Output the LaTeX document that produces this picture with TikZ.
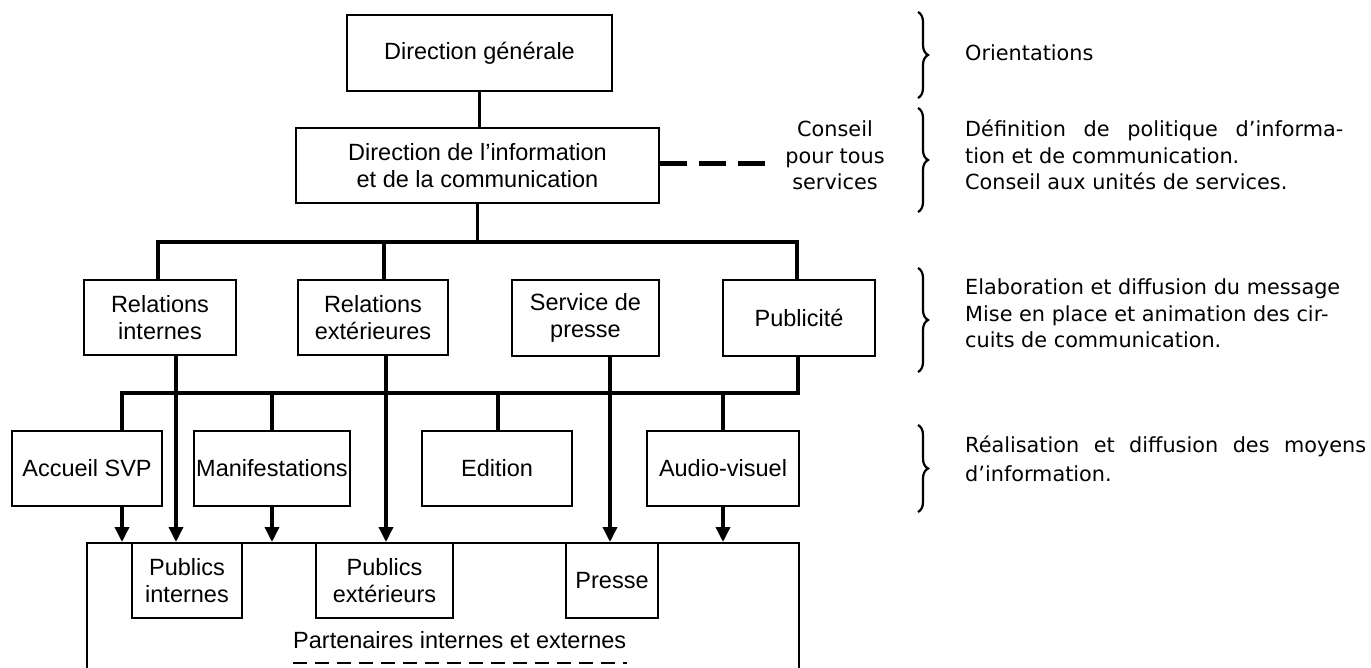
\documentclass[tikz,border=0pt]{standalone}
\usepackage{fontspec}
\setmainfont{Liberation Sans}
\newfontfamily\rcolfam{DejaVu Sans}
\usetikzlibrary{arrows.meta,decorations.pathreplacing}
\newcommand\bxfnt{\fontsize{23.5}{27}\selectfont}
\newcommand\rcolfnt{\rcolfam\fontsize{20.8}{26.5}\selectfont}
\begin{document}
\begin{tikzpicture}[x=1pt,y=-1pt,
  box/.style={draw, line width=2pt, fill=white, align=center, inner sep=0pt, font=\bxfnt},
  bus/.style={line width=4pt, line join=miter},
  conn/.style={line width=3.5pt},
  arr/.style={line width=3.5pt, -{Triangle[length=15pt,width=14pt]}},
  dashln/.style={line width=5pt, dash pattern=on 27pt off 12pt},
  ul/.style={line width=2pt, dash pattern=on 14pt off 8pt},
  brc/.style={line width=2.2pt, decorate, decoration={brace, amplitude=10pt, aspect=0.5}},
  rtext/.style={inner sep=0pt, font=\rcolfnt},
  btext/.style={inner sep=0pt, font=\bxfnt}]
\useasboundingbox (0,0) rectangle (1371,668);
\clip (0,0) rectangle (1371,668);
\fill[white] (0,0) rectangle (1371,668);

% --- boxes
\node[box, minimum width=265pt, minimum height=76pt] (dg) at (479.5,53) {Direction générale};
\node[box, minimum width=363pt, minimum height=75pt] (dic) at (477.5,165.5) {Direction de l’information\\et de la communication};
\node[box, minimum width=152pt, minimum height=75pt] (ri) at (160,317.5) {Relations\\internes};
\node[box, minimum width=150pt, minimum height=75pt] (re) at (373,317.5) {Relations\\extérieures};
\node[box, minimum width=147pt, minimum height=76pt] (sp) at (585.5,318) {Service de\\presse};
\node[box, minimum width=152pt, minimum height=76pt] (pu) at (799,318) {Publicité};
\node[box, minimum width=150pt, minimum height=75pt] (ac) at (87,468.5) {Accueil SVP};
\node[box, minimum width=156pt, minimum height=75pt] (ma) at (272,468.5) {Manifestations};
\node[box, minimum width=150pt, minimum height=75pt] (ed) at (497,468.5) {Edition};
\node[box, minimum width=152pt, minimum height=75pt] (av) at (723,468.5) {Audio-visuel};
\node[box, minimum width=712pt, minimum height=157pt] (pa) at (443,621.5) {};
\node[box, minimum width=110pt, minimum height=75pt] (pi) at (187,580.5) {Publics\\internes};
\node[box, minimum width=137pt, minimum height=75pt] (pe) at (384.5,580.5) {Publics\\extérieurs};
\node[box, minimum width=92pt, minimum height=75pt] (pr) at (612,580.5) {Presse};
\node[btext, anchor=base west] (pt) at (293,648) {Partenaires internes et externes};
\draw[ul] ([yshift=-15pt]pt.base west) -- ([yshift=-15pt]pt.base east);

% --- coordinates of buses and drops
\coordinate (b1L) at (158,242);
\coordinate (b1re) at (384,242);
\coordinate (b1R) at (797,242);
\coordinate (b2L) at (122,393);
\coordinate (b2ma) at (272,393);
\coordinate (b2ed) at (498,393);
\coordinate (b2av) at (723,393);
\coordinate (b2R) at (798,393);
\coordinate (xri) at (176,0);
\coordinate (xre) at (386,0);
\coordinate (xsp) at (610,0);

% --- connectors
\draw[conn] (dg.south) -- (dic.north -| dg.south);
\draw[conn] (dic.south) -- (dic.south |- b1L);
\draw[bus] (ri.north -| b1L) -- (b1L) -- (b1R) -- (pu.north -| b1R);
\draw[conn] (b1re) -- (re.north -| b1re);
\draw[bus] (ac.north -| b2L) -- (b2L) -- (b2R) -- (pu.south -| b2R);
\draw[conn] (b2ma) -- (ma.north -| b2ma);
\draw[conn] (b2ed) -- (ed.north -| b2ed);
\draw[conn] (b2av) -- (av.north -| b2av);

\draw[arr] (ac.south -| b2L) -- (pa.north -| b2L);
\draw[arr] (ri.south -| xri) -- (pa.north -| xri);
\draw[arr] (ma.south) -- (pa.north -| ma.south);
\draw[arr] (re.south -| xre) -- (pa.north -| xre);
\draw[arr] (sp.south -| xsp) -- (pa.north -| xsp);
\draw[arr] (av.south) -- (pa.north -| av.south);

% --- advice link
\coordinate (dend) at (769,164);
\draw[dashln] (dic.east |- dend) -- (dend);
\node[rtext, anchor=base] (cs) at (835,137) {\begin{tabular}[t]{@{}c@{}}Conseil\\pour tous\\services\end{tabular}};

% --- braces
\draw[brc] (918,12) -- (918,98);
\draw[brc] (918,108) -- (918,212);
\draw[brc] (918,268) -- (918,372);
\draw[brc] (918,425) -- (918,512);

% --- right column
\node[rtext, anchor=base west] (t1) at (965,61) {Orientations};
\node[rtext, anchor=base west] (t2) at (965,137) {\begin{tabular}[t]{@{}l@{}}\makebox[378pt][s]{Définition de politique d’informa-}\\tion et de communication.\\Conseil aux unités de services.\end{tabular}};
\node[rtext, anchor=base west] (t3) at (965,295) {\begin{tabular}[t]{@{}l@{}}Elaboration et diffusion du message\\Mise en place et animation des cir-\\cuits de communication.\end{tabular}};
\node[rtext, anchor=base west] (t4) at (965,452) {\begin{tabular}[t]{@{}l@{}}\makebox[401pt][s]{Réalisation et diffusion des moyens}\\[3pt]d’information.\end{tabular}};
\end{tikzpicture}
\end{document}
